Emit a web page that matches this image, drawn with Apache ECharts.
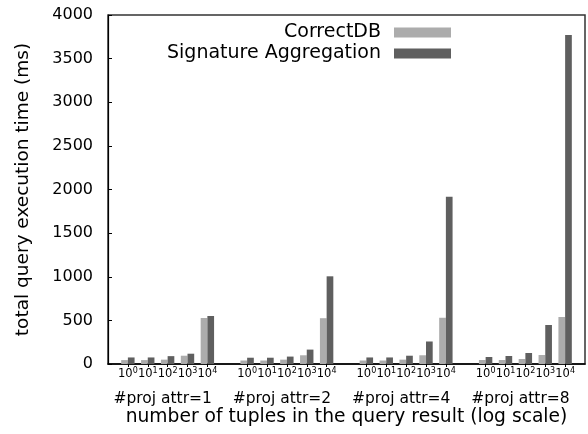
<!DOCTYPE html>
<html lang="en">
<head>
    <meta charset="UTF-8">
    <title>query execution time</title>
    <script src="https://cdn.jsdelivr.net/npm/echarts@6/dist/echarts.min.js"></script>
</head>
<body style="margin:0">
<div id="chart" style="width: 588px;height: 434px"></div>

<script>
    // groups and sizes (exponent of 10)
    var groups = ['#proj attr=1', '#proj attr=2', '#proj attr=4', '#proj attr=8'];
    var exponents = ['0', '1', '2', '3', '4'];

    // values in ms, one array per group
    var correctDB1 = [45, 45, 50, 95, 527];
    var correctDB2 = [40, 40, 50, 100, 525];
    var correctDB4 = [40, 40, 50, 100, 530];
    var correctDB8 = [46, 46, 57, 103, 539];

    var sigAgg1 = [75, 75, 90, 118, 550];
    var sigAgg2 = [72, 72, 85, 165, 1005];
    var sigAgg4 = [75, 75, 95, 258, 1918];
    var sigAgg8 = [80, 92, 126, 447, 3771];

    var yTicks = [0, 500, 1000, 1500, 2000, 2500, 3000, 3500, 4000];

    // flat category list with an empty slot before each group and at the end
    var cats = [''];
    var cdb = [null];
    var sig = [null];
    var cdbGroups = [correctDB1, correctDB2, correctDB4, correctDB8];
    var sigGroups = [sigAgg1, sigAgg2, sigAgg4, sigAgg8];
    for (var g = 0; g < groups.length; g++) {
        for (var k = 0; k < exponents.length; k++) {
            cats.push(exponents[k]);
            cdb.push(cdbGroups[g][k]);
            sig.push(sigGroups[g][k]);
        }
        cats.push('');
        cdb.push(null);
        sig.push(null);
    }

    var chart = echarts.init(document.getElementById('chart'));
    var option = {
        animation: false,
        textStyle: {fontFamily: 'DejaVu Sans', color: '#000'},
        grid: {
            left: 108, top: 15, right: -6, bottom: 70,
            show: true, borderColor: '#333', borderWidth: 1.5
        },
        legend: {
            orient: 'vertical',
            right: 132, top: 18,
            align: 'right',
            itemWidth: 57, itemHeight: 10, itemGap: 2,
            icon: 'rect',
            textStyle: {fontSize: 19, color: '#000', padding: [0, 8, 0, 0]},
            data: ['CorrectDB', 'Signature Aggregation']
        },
        xAxis: [
            {
                type: 'category',
                data: cats,
                boundaryGap: false,
                position: 'bottom',
                name: 'number of tuples in the query result (log scale)',
                nameLocation: 'middle',
                nameGap: 44,
                nameTextStyle: {fontSize: 18.7, color: '#000'},
                axisLine: {lineStyle: {color: '#000', width: 1.5}},
                axisTick: {
                    length: 3,
                    lineStyle: {color: '#000'},
                    interval: function (i, v) { return v !== ''; }
                },
                axisLabel: {
                    interval: 0,
                    margin: 3,
                    formatter: function (v) {
                        return v === '' ? '' : '{b|10}{s|' + v + '}';
                    },
                    rich: {
                        b: {fontSize: 11.5, lineHeight: 13, verticalAlign: 'bottom', color: '#000'},
                        s: {fontSize: 8, lineHeight: 8, verticalAlign: 'top', color: '#000'}
                    }
                },
                splitLine: {show: false}
            },
            {
                type: 'category',
                data: groups,
                position: 'bottom',
                axisLine: {show: false},
                axisTick: {show: false},
                axisLabel: {interval: 0, margin: 27, fontSize: 15.5, color: '#000', padding: [0, 10, 0, 0]},
                splitLine: {show: false}
            }
        ],
        yAxis: {
            type: 'value',
            min: yTicks[0],
            max: yTicks[yTicks.length - 1],
            interval: 500,
            name: 'total query execution time (ms)',
            nameLocation: 'middle',
            nameGap: 75,
            nameTextStyle: {fontSize: 18.5, color: '#000'},
            axisLine: {show: true, lineStyle: {color: '#000', width: 1.2}},
            axisTick: {show: true, inside: true, length: 4, lineStyle: {color: '#000'}},
            axisLabel: {
                fontSize: 16, color: '#000', margin: 15,
                formatter: function (v) { return String(v); }
            },
            splitLine: {show: false}
        },
        series: [
            {
                name: 'CorrectDB',
                type: 'bar',
                data: cdb,
                barWidth: 6.7,
                barGap: '0%',
                itemStyle: {color: '#acacac'}
            },
            {
                name: 'Signature Aggregation',
                type: 'bar',
                data: sig,
                barWidth: 6.7,
                barGap: '0%',
                itemStyle: {color: '#5f5f5f'}
            }
        ]
    };
    option && chart.setOption(option);
</script>
</body>
</html>
